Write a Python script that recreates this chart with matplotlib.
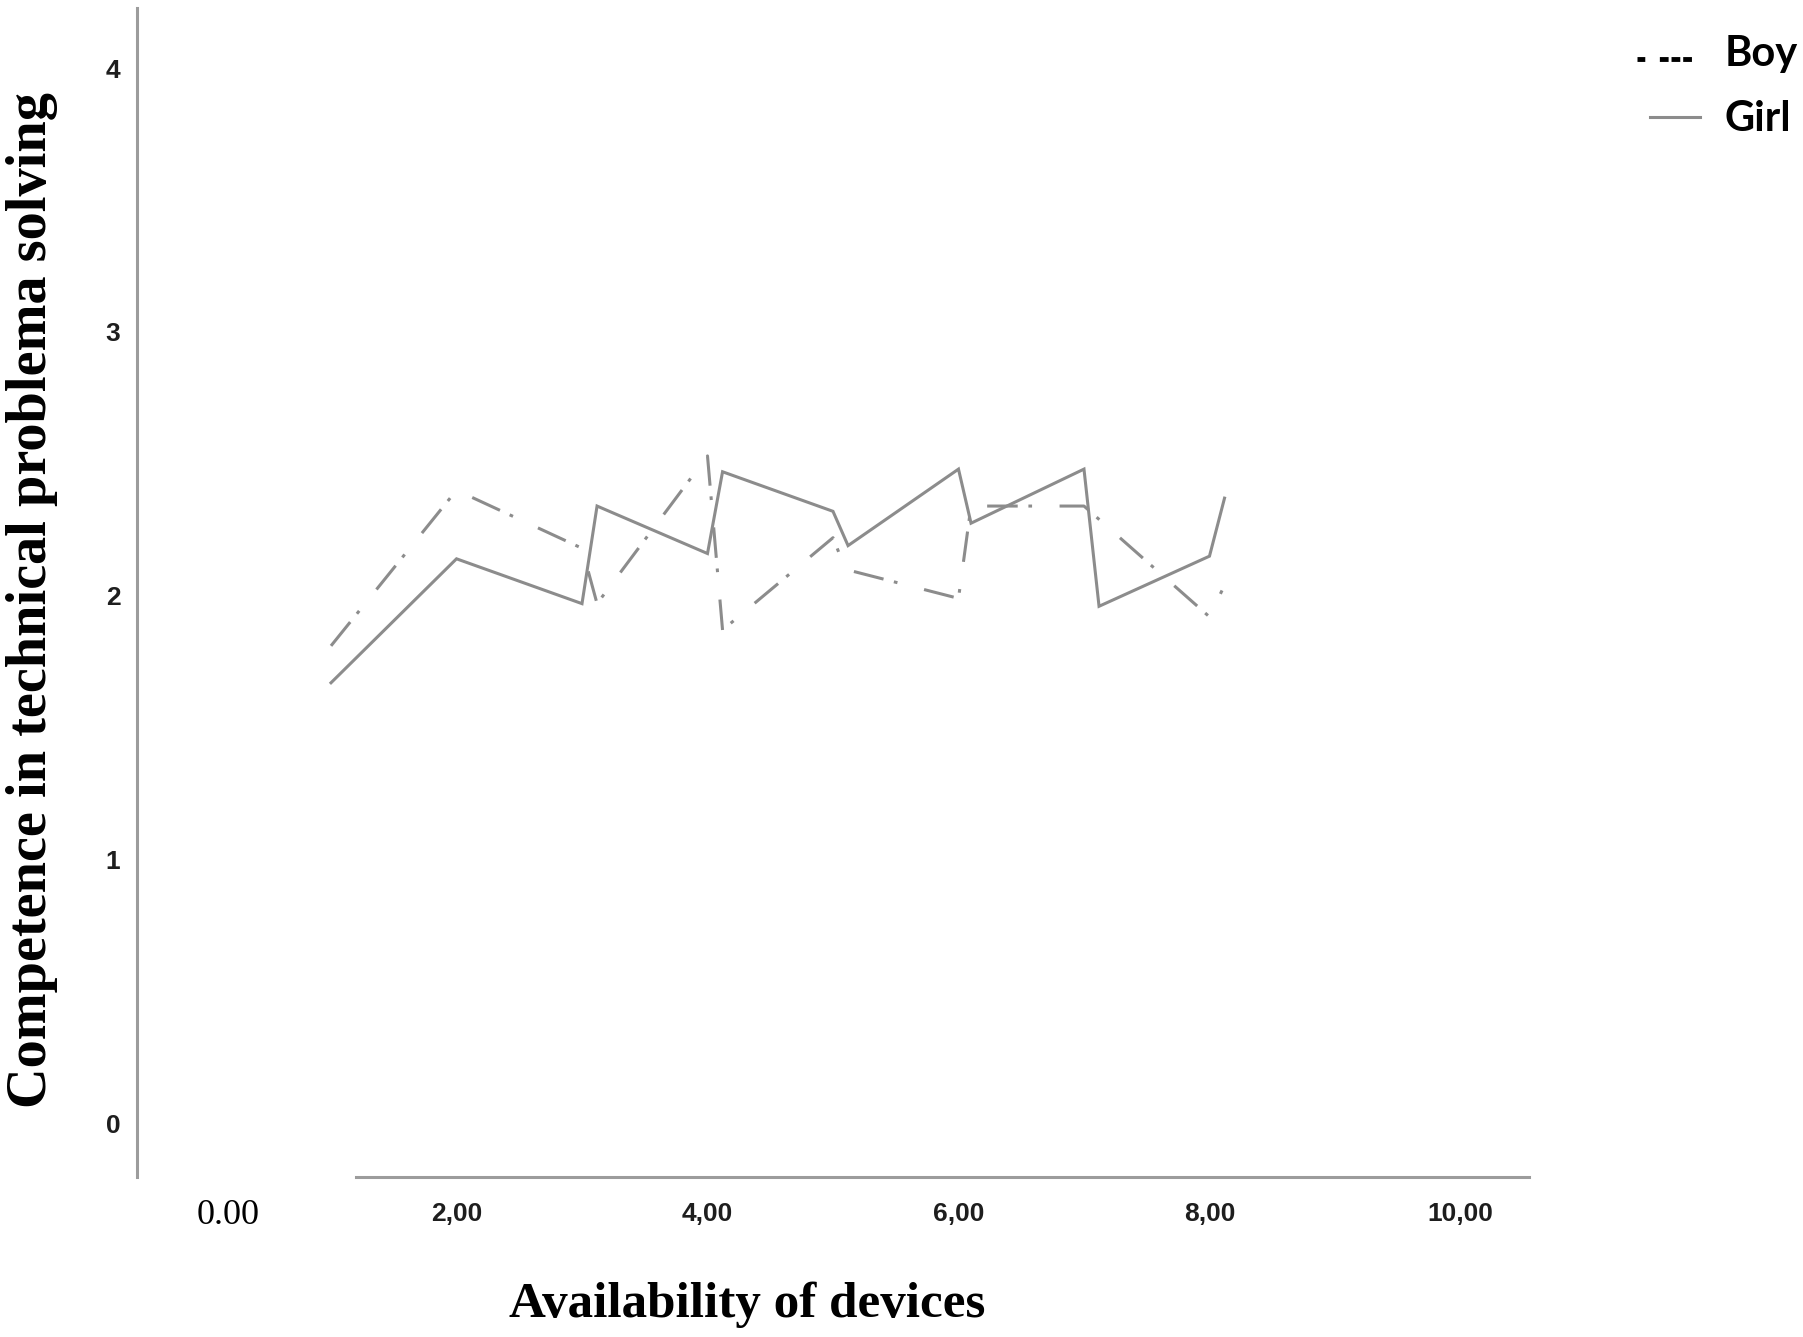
import matplotlib
matplotlib.use("Agg")
import matplotlib.pyplot as plt
from matplotlib.lines import Line2D

# values
boy_x = [1, 2, 3, 3.12, 4, 4.12, 5, 5.1, 6, 6.1, 7, 8, 8.1]
boy_y = [1.81, 2.40, 2.18, 1.97, 2.53, 1.87, 2.22, 2.10, 1.99, 2.34, 2.34, 1.92, 2.02]
girl_x = [1, 2, 3, 3.12, 4, 4.12, 5, 5.12, 6, 6.1, 7, 7.12, 8, 8.12]
girl_y = [1.67, 2.14, 1.97, 2.34, 2.16, 2.47, 2.32, 2.19, 2.48, 2.275, 2.48, 1.96, 2.15, 2.37]
x_ticks = [2, 4, 6, 8, 10]
x_ticklabels = ["2,00", "4,00", "6,00", "8,00", "10,00"]
y_ticks = [0, 1, 2, 3, 4]
series_names = ["Boy", "Girl"]

line_color = "#8c8c8c"
axis_color = "#9c9c9c"
tick_font = ["Liberation Sans Narrow", "Liberation Sans", "DejaVu Sans"]
serif_font = ["Liberation Serif", "DejaVu Serif"]

fig = plt.figure(figsize=(18.03, 13.37), dpi=100)
ax = fig.add_axes([0.07598, 0.11930, 0.77232, 0.87449])

ax.plot(boy_x, boy_y, color=line_color, lw=2.2,
        linestyle=(0, (10, 3.5, 1.2, 9)), dash_capstyle="butt")
ax.plot(girl_x, girl_y, color=line_color, lw=2.2, solid_joinstyle="miter")

ax.set_xlim(-0.546, 10.55)
ax.set_ylim(-0.2055, 4.227)

for side in ["top", "right"]:
    ax.spines[side].set_visible(False)
for side in ["left", "bottom"]:
    ax.spines[side].set_color(axis_color)
    ax.spines[side].set_linewidth(2.2)
ax.spines["bottom"].set_bounds(1.203, 10.55)

ax.set_xticks(x_ticks)
ax.set_xticklabels(x_ticklabels)
ax.set_yticks(y_ticks)
ax.tick_params(length=0, colors="#1e1e1e", labelsize=19)
ax.tick_params(axis="x", pad=18)
ax.tick_params(axis="y", pad=12)
for lab in ax.get_xticklabels() + ax.get_yticklabels():
    lab.set_family(tick_font)
    lab.set_fontweight("bold")

# separate origin label, as in the original figure
fig.text(228 / 1803, 1 - 1215 / 1337, "0.00", family=serif_font,
         fontsize=26, ha="center", va="center", color="black")

fig.text(747 / 1803, 1 - 1305 / 1337, "Availability of devices", family=serif_font,
         fontsize=36.8, fontweight="bold", ha="center", va="center")
fig.text(32 / 1803, 1 - 600 / 1337, "Competence in technical problema solving",
         family=serif_font, fontsize=40.5, fontweight="bold", rotation=90,
         ha="center", va="center")

# legend drawn at the top right
leg_font = ["Lato", "DejaVu Sans"]
fig.add_artist(Line2D([1637 / 1803, 1693 / 1803], [1 - 59 / 1337, 1 - 59 / 1337],
                      transform=fig.transFigure, color="black", lw=3.5,
                      linestyle=(0, (1.6, 3, 1.8, 0.6, 1.8, 0.6, 1.8, 0.6))))
fig.add_artist(Line2D([1650 / 1803, 1700 / 1803], [1 - 117 / 1337, 1 - 117 / 1337],
                      transform=fig.transFigure, color=line_color, lw=2.2))
fig.text(1725 / 1803, 1 - 54 / 1337, series_names[0], family=leg_font,
         fontsize=30, fontweight="bold", ha="left", va="center")
fig.text(1725 / 1803, 1 - 119 / 1337, series_names[1], family=leg_font,
         fontsize=30, fontweight="bold", ha="left", va="center")

fig.savefig("out.png", dpi=100)
